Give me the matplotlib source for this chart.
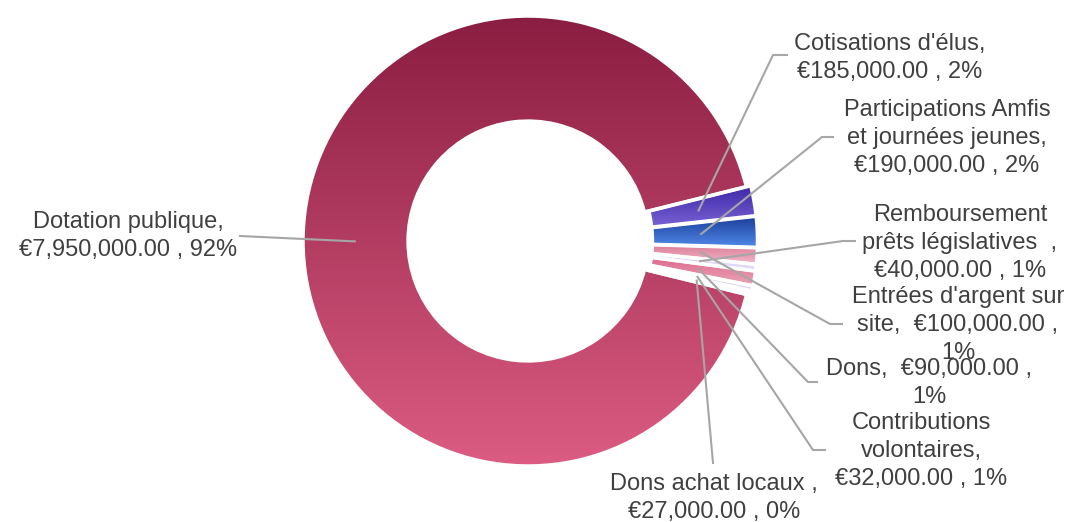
import matplotlib.pyplot as plt
import numpy as np
from matplotlib.colors import LinearSegmentedColormap

plt.rcParams['font.family'] = ['Liberation Sans', 'DejaVu Sans']

categories = ['Dotation publique', "Cotisations d'élus", 'Participations Amfis et journées jeunes',
              "Entrées d'argent sur site", 'Remboursement prêts législatives', 'Dons',
              'Contributions volontaires', 'Dons achat locaux']
values = [7950000, 185000, 190000, 100000, 40000, 90000, 32000, 27000]
label_text = ['Dotation publique,\n€7,950,000.00 , 92%',
              "Cotisations d'élus,\n€185,000.00 , 2%",
              'Participations Amfis\net journées jeunes,\n€190,000.00 , 2%',
              "Entrées d'argent sur\nsite,  €100,000.00 ,\n1%",
              'Remboursement\nprêts législatives  ,\n€40,000.00 , 1%',
              'Dons,  €90,000.00 ,\n1%',
              'Contributions\nvolontaires,\n€32,000.00 , 1%',
              'Dons achat locaux ,\n€27,000.00 , 0%']
# gradient colours (top, bottom)
grads = [('#8a1d41', '#dc5c83'),
         ('#3c27a6', '#8c74e2'),
         ('#183a96', '#5189e8'),
         ('#d8718f', '#f1b8c9'),
         ('#c7bff4', '#e4e0fb'),
         ('#d14a73', '#eda4ba'),
         ('#c4bcf2', '#e2defa'),
         ('#f6edf3', '#fbf6f9')]
explode = [0, 0.02, 0.02, 0.02, 0.02, 0.02, 0.02, 0.02]

# layout in pixels: text centre, elbow, end of leader
W, H = 1068, 522
CX, CY, R = 528, 241, 225
text_px = [(128, 236), (890, 58), (947, 138), (958, 325), (960, 243), (929, 383), (921, 451), (714, 498)]
elbow_px = [(240, 236), (773, 55), (822, 137), (830, 324), (843, 241), (808, 382), (813, 450), (713, 463)]
end_px = [(240, 236), (787, 55), (833, 137), (842, 324), (855, 241), (817, 382), (825, 450), (713, 463)]


def px(p):
    return ((p[0] - CX) / R, (CY - p[1]) / R)


fig = plt.figure(figsize=(W / 100, H / 100), dpi=100)
ax = fig.add_axes([0, 0, 1, 1])

total = sum(values)
start = 14 - 360 * sum(values[1:]) / total
wedges, _ = ax.pie(values, startangle=start, counterclock=False, radius=1, explode=explode,
                   wedgeprops=dict(width=0.467, edgecolor='white', linewidth=2.5))

ramp = np.linspace(0, 1, 256).reshape(-1, 1)
for w, (top, bot) in zip(wedges, grads):
    v = w.get_path().vertices
    cmap = LinearSegmentedColormap.from_list('g', [bot, top])
    ax.imshow(ramp, extent=[v[:, 0].min(), v[:, 0].max(), v[:, 1].min(), v[:, 1].max()],
              origin='lower', cmap=cmap, aspect='auto', zorder=1, clip_path=w)
    w.set_facecolor('none')
    w.set_zorder(2)

for w, txt, tp, ep, dp in zip(wedges, label_text, text_px, elbow_px, end_px):
    mid = np.deg2rad((w.theta1 + w.theta2) / 2)
    a = (0.77 * np.cos(mid), 0.77 * np.sin(mid))
    e, d = px(ep), px(dp)
    ax.plot([a[0], e[0], d[0]], [a[1], e[1], d[1]], color='#a6a6a6', lw=1.5, zorder=3)
    t = px(tp)
    ax.text(t[0], t[1], txt, ha='center', va='center', fontsize=17, color='#404040',
            linespacing=1.38, zorder=4)

ax.set_xlim(-CX / R, (W - CX) / R)
ax.set_ylim(-(H - CY) / R, CY / R)
ax.set_aspect('equal')
ax.axis('off')
plt.savefig('out.png', dpi=100)
